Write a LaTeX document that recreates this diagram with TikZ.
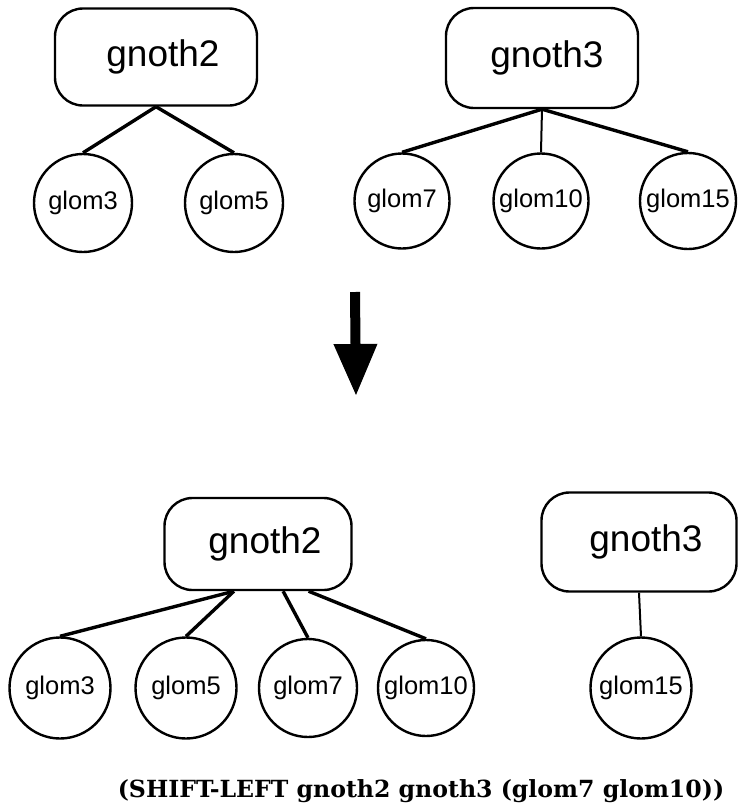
\documentclass[tikz,border=0pt]{standalone}
\usepackage{fontspec}
\setmainfont{Liberation Sans}
\newfontfamily\capfont{DejaVu Serif}
\usetikzlibrary{arrows.meta}

\begin{document}
\begin{tikzpicture}[x=1pt,y=-1pt,
	gnothbox/.style={draw,line width=2.4pt,rounded corners=28pt,font=\fontsize{37}{40}\selectfont,inner sep=0pt},
	glomnode/.style={draw,circle,line width=2.4pt,minimum size=98pt,inner sep=0pt,font=\fontsize{25.5}{28}\selectfont},
	link/.style={line width=3.4pt},
	thinlink/.style={line width=2pt}]
	
	\useasboundingbox (0,0) rectangle (737,812);
	
	% Draw nodes, before the shift
	\node[gnothbox,minimum width=202pt,minimum height=97pt] (gnoth2) at (156,57) {\hspace{14pt}gnoth2};
	\node[gnothbox,minimum width=192pt,minimum height=100pt] (gnoth3) at (542,58) {\hspace{10pt}gnoth3};
	\node[glomnode] (glom3) at (83,203) {glom3};
	\node[glomnode] (glom5) at (234,203) {glom5};
	\node[glomnode,minimum size=95pt] (glom7) at (402,201) {glom7};
	\node[glomnode,minimum size=95pt] (glom10) at (541,201) {glom10};
	\node[glomnode,minimum size=96pt] (glom15) at (688,201) {glom15};
	
	% Draw nodes, after the shift
	\node[gnothbox,minimum width=187pt,minimum height=92pt] (newgnoth2) at (258,544) {\hspace{14pt}gnoth2};
	\node[gnothbox,minimum width=195pt,minimum height=99pt] (newgnoth3) at (639,542) {\hspace{14pt}gnoth3};
	\node[glomnode,minimum size=101pt] (newglom3) at (60,688) {glom3};
	\node[glomnode,minimum size=101pt] (newglom5) at (186,688) {glom5};
	\node[glomnode,minimum size=98pt] (newglom7) at (308,688) {glom7};
	\node[glomnode,minimum size=96pt] (newglom10) at (426,688) {glom10};
	\node[glomnode,minimum size=101pt] (newglom15) at (641,688) {glom15};
	
	% Draw arcs, before the shift
	\draw[link] (gnoth2.south) to (glom3.north);
	\draw[link] (gnoth2.south) to (glom5.north);
	\draw[link] (gnoth3.south) to (glom7.north);
	\draw[thinlink] (gnoth3.south) to (glom10.north);
	\draw[link] (gnoth3.south) to (glom15.north);
	
	% Draw the big arrow
	\coordinate (arrowtop) at (355,292);
	\coordinate (arrowtip) at (356,396);
	\draw[line width=10pt,-{Triangle[width=41pt,length=52pt]}] (arrowtop) to (arrowtip);
	
	% Draw arcs, after the shift
	\draw[link] (newgnoth2.-117) to (newglom3.north);
	\draw[link] (newgnoth2.-117) to (newglom5.north);
	\draw[link] (newgnoth2.-62) to (newglom7.north);
	\draw[link] (newgnoth2.-43) to (newglom10.north);
	\draw[thinlink] (newgnoth3.south) to (newglom15.north);
	
	% Caption
	\node[font=\capfont\bfseries\fontsize{23.6}{28}\selectfont] (caption) at (421,791) {(SHIFT-LEFT gnoth2 gnoth3 (glom7 glom10))};
	
\end{tikzpicture}
\end{document}
